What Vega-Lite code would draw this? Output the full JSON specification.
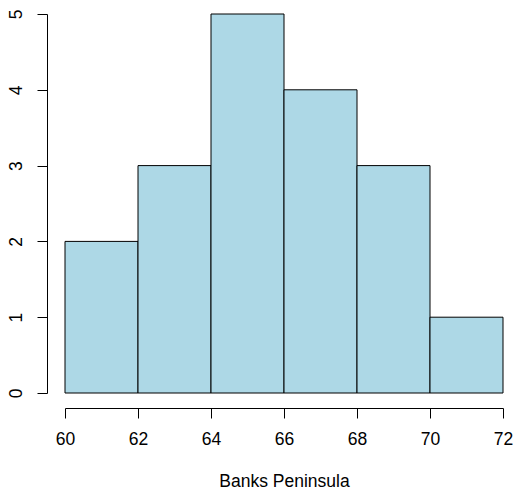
{
  "$schema": "https://vega.github.io/schema/vega-lite/v6.json",
  "width": 438,
  "height": 379,
  "autosize": "none",
  "padding": {"left": 65, "top": 14, "right": 11, "bottom": 100},
  "background": "white",
  "config": {
    "view": {"stroke": null},
    "font": "Liberation Sans",
    "axis": {
      "grid": false,
      "domainColor": "black",
      "tickColor": "black",
      "labelColor": "black",
      "titleColor": "black",
      "labelFont": "Liberation Sans",
      "titleFont": "Liberation Sans",
      "labelFontSize": 17.5,
      "titleFontSize": 17.5,
      "titleFontWeight": "normal",
      "tickSize": 10,
      "domainWidth": 1,
      "tickWidth": 1
    }
  },
  "data": {
    "values": [
      {"start": 60, "end": 62, "count": 2},
      {"start": 62, "end": 64, "count": 3},
      {"start": 64, "end": 66, "count": 5},
      {"start": 66, "end": 68, "count": 4},
      {"start": 68, "end": 70, "count": 3},
      {"start": 70, "end": 72, "count": 1}
    ]
  },
  "mark": {"type": "rect", "fill": "#ADD8E6", "stroke": "black", "strokeWidth": 1},
  "encoding": {
    "x": {
      "field": "start",
      "type": "quantitative",
      "scale": {"domain": [60, 72], "nice": false, "zero": false},
      "axis": {"values": [60, 62, 64, 66, 68, 70, 72], "offset": 15, "labelPadding": 12, "title": "Banks Peninsula", "titlePadding": 25, "labelFlush": false}
    },
    "x2": {"field": "end"},
    "y": {
      "field": "count",
      "type": "quantitative",
      "scale": {"domain": [0, 5], "nice": false},
      "axis": {"values": [0, 1, 2, 3, 4, 5], "offset": 18, "labelAngle": -90, "labelPadding": 12, "title": null, "labelFlush": false}
    },
    "y2": {"datum": 0}
  }
}
